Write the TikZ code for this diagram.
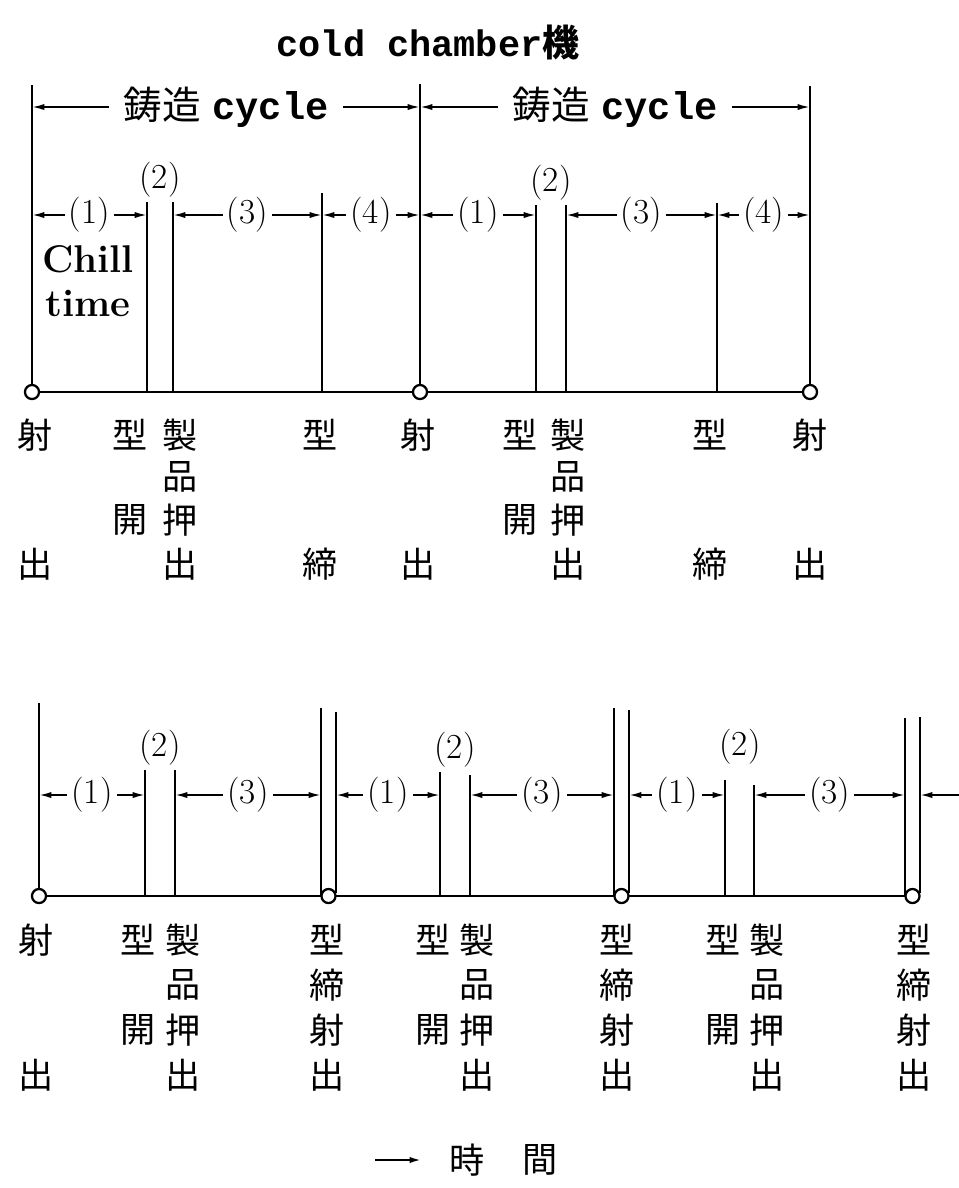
\documentclass[tikz,border=0pt]{standalone}
\usepackage{fontspec}
\usepackage{tikz}
\usetikzlibrary{arrows.meta}
\newfontfamily\jpfont{Noto Sans CJK JP}
\newfontfamily\typfont{Liberation Mono}

\begin{document}
\begin{tikzpicture}[x=0.02cm, y=-0.02cm,
  >={Latex[length=7pt,width=3.5pt]},
  evline/.style={line width=1.5pt},
  dimline/.style={<->, line width=1pt},
  dimlabel/.style={fill=white, inner sep=2.5pt, font=\fontsize{20}{22}\selectfont},
  jp/.style={inner sep=0pt, font=\jpfont\fontsize{20}{22}\selectfont},
  evpoint/.style={draw, fill=white, line width=1.3pt}]
  \useasboundingbox (0,0) rectangle (959,1188);

  % tytul
  \node (title) at (428,42) {\fontsize{21}{24}\selectfont\typfont\bfseries cold chamber{\jpfont 機}};

  % gorny wykres - linie
  \draw[evline] (32,392) -- (810,392);
  \draw[evline] (32,85) -- (32,392);
  \draw[evline] (147,197) -- (147,392);
  \draw[evline] (173,195) -- (173,392);
  \draw[evline] (322,193) -- (322,392);
  \draw[evline] (420,84) -- (420,392);
  \draw[evline] (536,200) -- (536,392);
  \draw[evline] (566,200) -- (566,392);
  \draw[evline] (717,203) -- (717,392);
  \draw[evline] (810,86) -- (810,392);
  \draw[evpoint] (32,392) circle (4pt);
  \draw[evpoint] (420,392) circle (4pt);
  \draw[evpoint] (810,392) circle (4pt);

  % gorny wykres - wymiary
  \coordinate (c0) at (32,107);
  \coordinate (c4) at (420,107);
  \coordinate (c8) at (810,107);
  \draw[dimline] (c0) -- (c4) node[midway, dimlabel, inner sep=8pt] (cyc1) {\fontsize{22}{24}\selectfont{\jpfont 鋳造} \typfont\bfseries cycle};
  \draw[dimline] (c4) -- (c8) node[midway, dimlabel, inner sep=8pt] (cyc2) {\fontsize{22}{24}\selectfont{\jpfont 鋳造} \typfont\bfseries cycle};

  \coordinate (a0) at (32,215);
  \coordinate (a1) at (147,215);
  \coordinate (a2) at (173,215);
  \coordinate (a3) at (322,215);
  \coordinate (a4) at (420,215);
  \coordinate (a5) at (536,215);
  \coordinate (a6) at (566,215);
  \coordinate (a7) at (717,215);
  \coordinate (a8) at (810,215);
  \draw[dimline] (a0) -- (a1) node[midway, dimlabel] (p1) {(1)};
  \draw[dimline] (a2) -- (a3) node[midway, dimlabel] (p3) {(3)};
  \draw[dimline] (a3) -- (a4) node[midway, dimlabel] (p4) {(4)};
  \draw[dimline] (a4) -- (a5) node[midway, dimlabel] (q1) {(1)};
  \draw[dimline] (a6) -- (a7) node[midway, dimlabel] (q3) {(3)};
  \draw[dimline] (a7) -- (a8) node[midway, dimlabel] (q4) {(4)};
  \node[dimlabel] (p2) at (160,180) {(2)};
  \node[dimlabel] (q2) at (551,183) {(2)};
  \node[align=center, inner sep=0pt, font=\fontsize{22}{25}\selectfont\bfseries] (chill) at (88,281) {Chill\\time};

  % gorny wykres - opisy
  \foreach \x/\y/\t [count=\i] in {35/435/射, 35/564/出, 130/435/型, 130/520/開,
      180/435/製, 180/477/品, 180/520/押, 180/564/出, 320/435/型, 320/564/締,
      418/435/射, 418/564/出, 520/435/型, 520/520/開, 568/435/製, 568/477/品,
      568/520/押, 568/564/出, 710/435/型, 710/564/締, 810/435/射, 810/564/出}
    \node[jp] (u\i) at (\x,\y) {\t};

  % dolny wykres - linie
  \draw[evline] (39,896) -- (912.5,896);
  \draw[evline] (39,703) -- (39,896);
  \draw[evline] (145,768) -- (145,896);
  \draw[evline] (175,770) -- (175,896);
  \draw[evline] (321,708) -- (321,896);
  \draw[evline] (336,712) -- (336,893);
  \draw[evline] (440,772) -- (440,896);
  \draw[evline] (470,775) -- (470,896);
  \draw[evline] (614,708) -- (614,896);
  \draw[evline] (629,710) -- (629,893);
  \draw[evline] (725,780) -- (725,896);
  \draw[evline] (754,785) -- (754,896);
  \draw[evline] (905,718) -- (905,896);
  \draw[evline] (920,717) -- (920,893);
  \draw[evpoint] (39,896) circle (4pt);
  \draw[evpoint] (328.5,896) circle (4pt);
  \draw[evpoint] (621.5,896) circle (4pt);
  \draw[evpoint] (912.5,896) circle (4pt);

  % dolny wykres - wymiary
  \coordinate (b0) at (39,795);
  \coordinate (b1) at (145,795);
  \coordinate (b2) at (175,795);
  \coordinate (b3) at (321,795);
  \coordinate (b4) at (336,795);
  \coordinate (b5) at (440,795);
  \coordinate (b6) at (470,795);
  \coordinate (b7) at (614,795);
  \coordinate (b8) at (629,795);
  \coordinate (b9) at (725,795);
  \coordinate (b10) at (754,795);
  \coordinate (b11) at (905,795);
  \coordinate (b12) at (920,795);
  \coordinate (bend) at (959,795);
  \draw[dimline] (b0) -- (b1) node[midway, dimlabel] (r1) {(1)};
  \draw[dimline] (b2) -- (b3) node[midway, dimlabel] (r3) {(3)};
  \draw[dimline] (b4) -- (b5) node[midway, dimlabel] (s1) {(1)};
  \draw[dimline] (b6) -- (b7) node[midway, dimlabel] (s3) {(3)};
  \draw[dimline] (b8) -- (b9) node[midway, dimlabel] (v1) {(1)};
  \draw[dimline] (b10) -- (b11) node[midway, dimlabel] (v3) {(3)};
  \draw[->, line width=1pt] (bend) -- (b12);
  \node[dimlabel] (r2) at (160,748) {(2)};
  \node[dimlabel] (s2) at (455,750) {(2)};
  \node[dimlabel] (v2) at (740,747) {(2)};

  % dolny wykres - opisy
  \foreach \x/\y/\t [count=\i] in {36/940/射, 36/1075/出, 138/940/型, 138/1030/開,
      183/940/製, 183/985/品, 183/1030/押, 183/1075/出,
      327/940/型, 327/985/締, 327/1030/射, 327/1075/出,
      433/940/型, 433/1030/開, 477/940/製, 477/985/品, 477/1030/押, 477/1075/出,
      617/940/型, 617/985/締, 617/1030/射, 617/1075/出,
      723/940/型, 723/1030/開, 767/940/製, 767/985/品, 767/1030/押, 767/1075/出,
      914/940/型, 914/985/締, 914/1030/射, 914/1075/出}
    \node[jp] (w\i) at (\x,\y) {\t};

  % czas
  \coordinate (t0) at (375,1160);
  \coordinate (t1) at (422,1160);
  \draw[->, line width=1.3pt] (t0) -- (t1);
  \node[jp] (time1) at (467,1160) {時};
  \node[jp] (time2) at (540,1160) {間};
\end{tikzpicture}
\end{document}
